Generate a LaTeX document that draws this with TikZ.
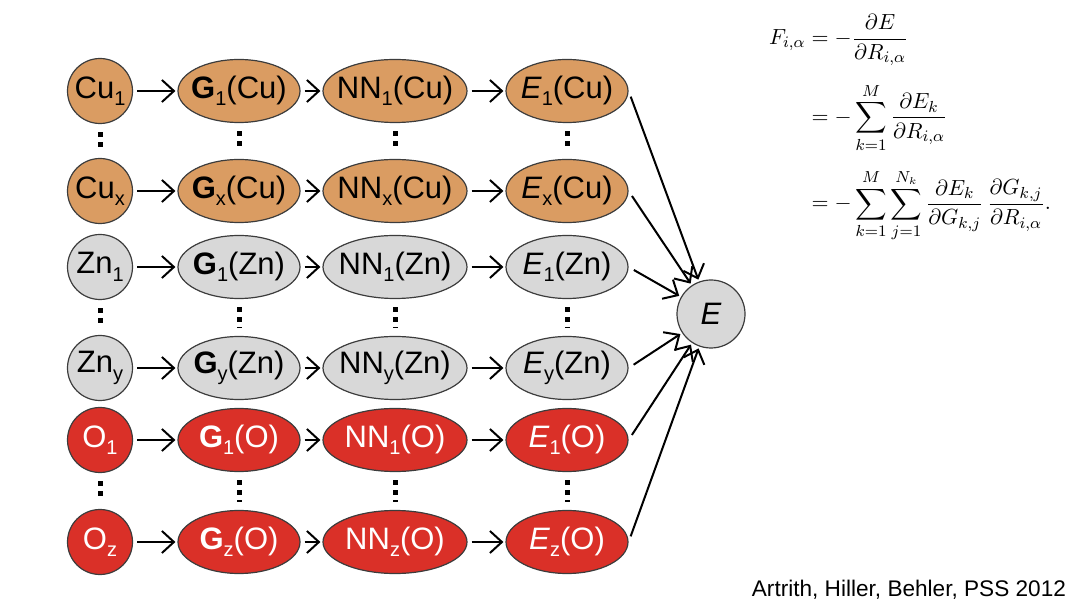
\documentclass[tikz,border=0pt]{standalone}
\usepackage{amsmath}
\usepackage{fontspec}
\setmainfont{Liberation Sans}
\usetikzlibrary{arrows.meta,shapes.geometric}

\definecolor{cuc}{RGB}{218,156,98}
\definecolor{znc}{RGB}{216,216,216}
\definecolor{oxc}{RGB}{218,48,40}
\definecolor{edgec}{RGB}{60,60,60}

\newcommand{\idx}[1]{\raisebox{-0.45ex}{\fontsize{10}{10}\selectfont #1}}
\newcommand{\lbl}[1]{\makebox[0pt]{#1}}

\tikzset{
  atom/.style={circle,draw=edgec,line width=0.6pt,minimum size=32.5pt,inner sep=0pt},
  fbox/.style={ellipse,draw=edgec,line width=0.6pt,minimum height=31.5pt,inner sep=0pt},
  flow/.style={line width=1pt,-{Straight Barb[length=6pt,width=11pt]},shorten <=2pt,shorten >=1pt},
  dots/.style={line width=2.5pt,dash pattern=on 2.5pt off 2.5pt,shorten <=4pt,shorten >=4pt}
}

\begin{document}
\begin{tikzpicture}[x=0.5pt,y=-0.5pt,font=\fontsize{15.5}{18}\selectfont]
\useasboundingbox (0,0) rectangle (1080,608);
\foreach \r/\y/\el/\sb/\fc/\tc in {1/91/Cu/1/cuc/black,2/191/Cu/x/cuc/black,3/267/Zn/1/znc/black,4/368/Zn/y/znc/black,5/440/O/1/oxc/white,6/542/O/z/oxc/white}{
  \node[atom,fill=\fc,text=\tc] (a\r) at (100,\y) {\lbl{\el\idx{\sb}}};
  \node[fbox,fill=\fc,text=\tc,minimum width=61pt] (g\r) at (239,\y) {\lbl{\textbf{G}\idx{\sb}(\el)}};
  \node[fbox,fill=\fc,text=\tc,minimum width=72pt] (n\r) at (395,\y) {\lbl{NN\idx{\sb}(\el)}};
  \node[fbox,fill=\fc,text=\tc,minimum width=61pt] (e\r) at (567,\y) {\lbl{\textit{E}\idx{\sb}(\el)}};
  \draw[flow] (a\r) -- (g\r);
  \draw[flow] (g\r) -- (n\r);
  \draw[flow] (n\r) -- (e\r);
}
\node[atom,fill=znc,minimum size=34pt] (E) at (711,314) {\textit{E}};
\foreach \r in {1,...,6}
  \draw[flow,shorten <=3pt] (e\r.east) -- (E);
% dotted gaps between first and last of each element
\foreach \p/\q in {1/2,3/4,5/6}{
  \draw[dots] (a\p) -- (a\q);
  \draw[dots] (g\p) -- (g\q);
  \draw[dots] (n\p) -- (n\q);
  \draw[dots] (e\p) -- (e\q);
}
\node[font=\fontsize{11}{13}\selectfont] (force) at (910,128) {\setlength{\jot}{7.5pt}$\begin{aligned}
F_{i,\alpha} &= -\frac{\partial E}{\partial R_{i,\alpha}}\\
&= -\sum_{k=1}^{M}\frac{\partial E_k}{\partial R_{i,\alpha}}\\
&= -\sum_{k=1}^{M}\sum_{j=1}^{N_k}\frac{\partial E_k}{\partial G_{k,j}}\,\frac{\partial G_{k,j}}{\partial R_{i,\alpha}}.
\end{aligned}$};
\node[anchor=east,font=\fontsize{11.3}{13}\selectfont] (cite) at (1073,590) {Artrith, Hiller, Behler, PSS 2012};
\end{tikzpicture}
\end{document}
